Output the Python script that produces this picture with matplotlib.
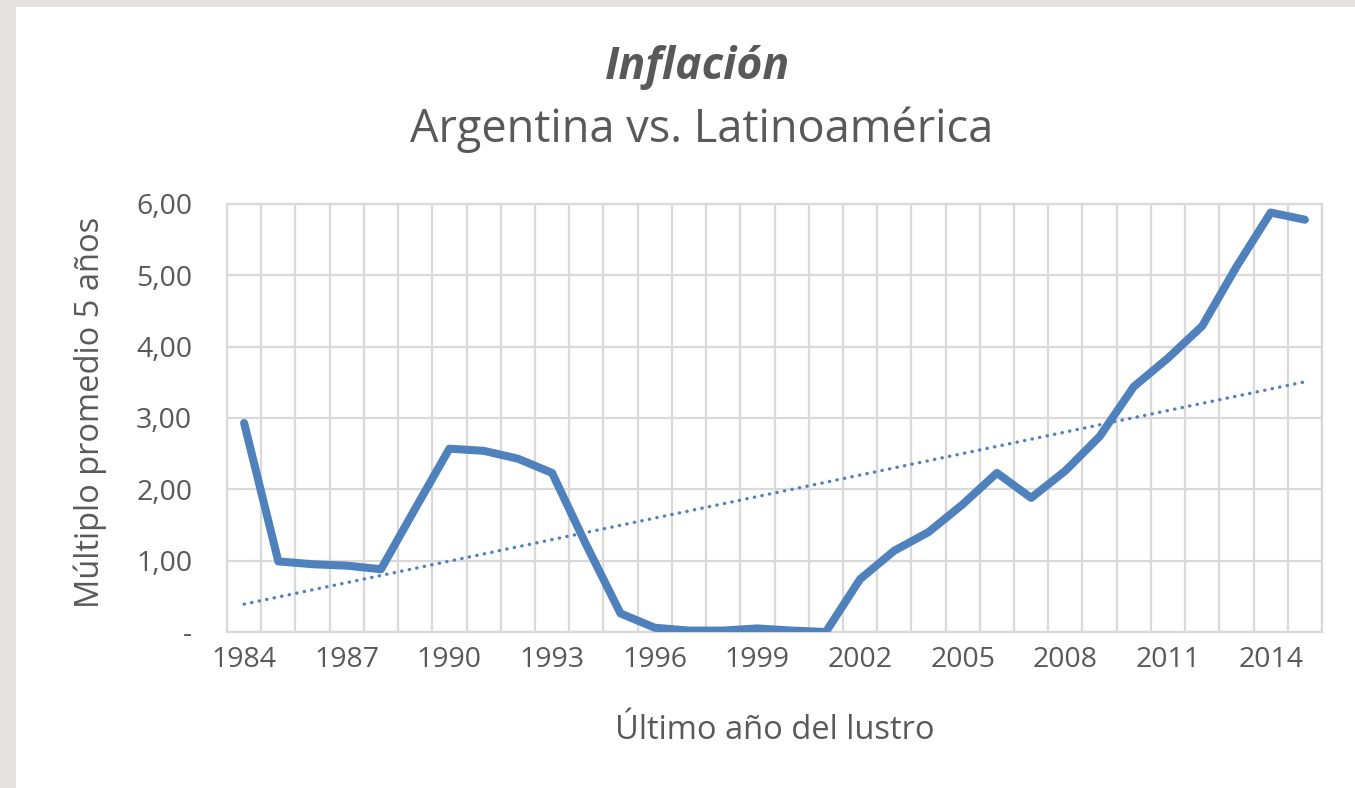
import numpy as np
import matplotlib
matplotlib.use("Agg")
import matplotlib.pyplot as plt
from matplotlib.patches import Rectangle

plt.rcParams['font.family'] = ['Open Sans', 'DejaVu Sans']

years = list(range(1984, 2016))
multiplo = [2.93, 0.99, 0.95, 0.93, 0.88, 1.73, 2.57, 2.54, 2.43, 2.23,
            1.22, 0.26, 0.06, 0.02, 0.02, 0.05, 0.02, 0.00, 0.74, 1.14,
            1.40, 1.79, 2.23, 1.88, 2.26, 2.74, 3.44, 3.84, 4.29, 5.12,
            5.88, 5.78]
y_ticks = [0, 1, 2, 3, 4, 5, 6]

blue = '#4f81bd'
grid = '#d9d9d9'
txt = '#595959'

fig = plt.figure(figsize=(13.55, 7.88), dpi=100)
fig.patch.set_facecolor('white')
# slide background showing at top and left edges
fig.patches.append(Rectangle((0, 0), 16/1355, 1, transform=fig.transFigure,
                             facecolor='#e4e3e0', edgecolor='none', zorder=0))
fig.patches.append(Rectangle((0, 1 - 7/788), 1, 7/788, transform=fig.transFigure,
                             facecolor='#e4e3e0', edgecolor='none', zorder=0))

ax = fig.add_axes([227/1355, 156/788, 1095/1355, 428/788])

x = np.arange(len(years))
ax.plot(x, multiplo, color=blue, lw=5.8, solid_capstyle='round',
        solid_joinstyle='round', zorder=3)

# linear trend like Excel's trendline
m, b = np.polyfit(x, multiplo, 1)
ax.plot(x, m * x + b, color=blue, lw=2.4, linestyle=(0, (0.1, 2.2)),
        dash_capstyle='round', zorder=2)

ax.set_xlim(-0.5, len(years) - 0.5)
ax.set_ylim(0, 6)

for k in range(len(years) + 1):
    ax.axvline(k - 0.5, color=grid, lw=1.6, zorder=1)
for v in y_ticks:
    ax.axhline(v, color=grid, lw=1.6, zorder=1)
for s in ax.spines.values():
    s.set_color(grid)
    s.set_linewidth(1.6)

ax.set_yticks(y_ticks)
ax.set_yticklabels(['-' if v == 0 else f"{v:.2f}".replace('.', ',') for v in y_ticks])
ax.set_xticks(x[::3])
ax.set_xticklabels([str(y) for y in years[::3]])
ax.tick_params(length=0, labelsize=20.5, colors=txt)
ax.tick_params(axis='y', pad=25)
ax.tick_params(axis='x', pad=10)

ax.set_ylabel('Múltiplo promedio 5 años', fontsize=23.5, color=txt, va='center')
ax.yaxis.set_label_coords(-0.1251, 0.514)
ax.set_xlabel('Último año del lustro', fontsize=23.5, color=txt, va='center')
ax.xaxis.set_label_coords(0.5, -0.229)

fig.text(697/1355, 1 - 68/788, 'Inflación', fontsize=32, fontweight='bold',
         fontstyle='italic', color=txt, ha='center', va='center')
fig.text(702/1355, 1 - 130/788, 'Argentina vs. Latinoamérica', fontsize=32.5,
         color=txt, ha='center', va='center')

fig.savefig('out.png', dpi=100)
